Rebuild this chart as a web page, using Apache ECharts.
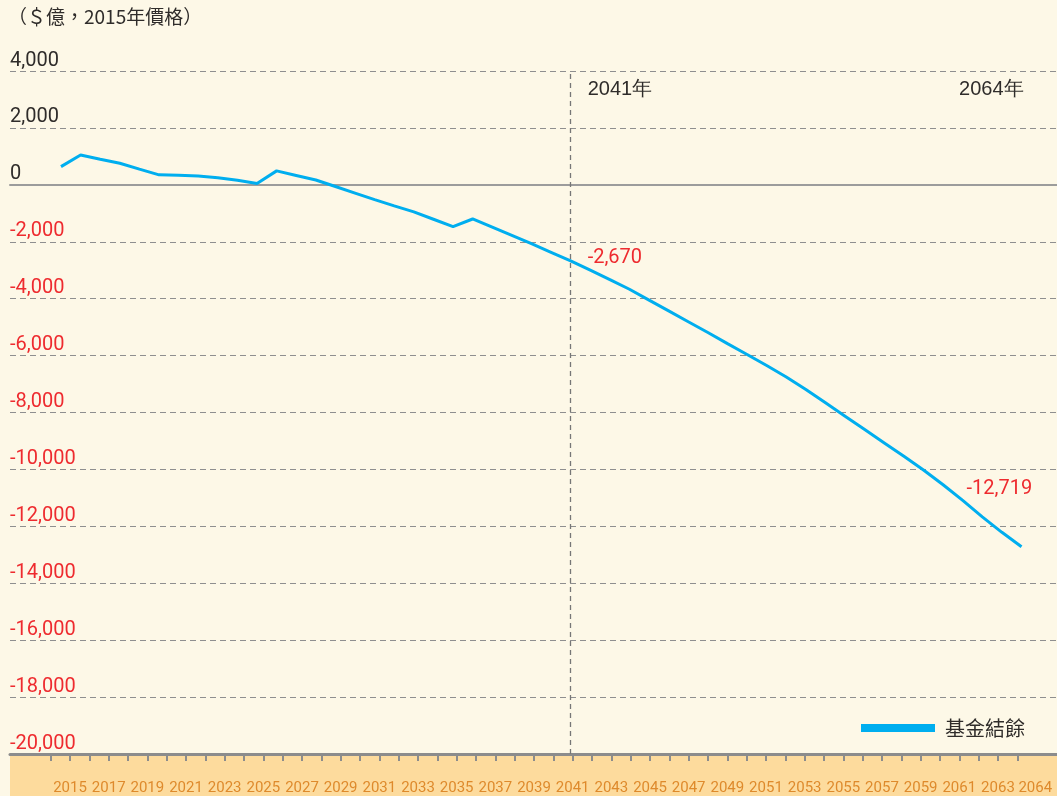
<!DOCTYPE html>
<html>
<head>
<meta charset="utf-8">
<title>基金結餘</title>
<script src="https://cdn.jsdelivr.net/npm/echarts@6/dist/echarts.min.js"></script>
<style>
html, body { margin: 0; padding: 0; background: #fdf8e7; }
#chart { width: 1057px; height: 796px; }
</style>
</head>
<body>
<div id="chart"></div>
<script>
// 數據年份
var years = [2015, 2016, 2017, 2018, 2019, 2020, 2021, 2022, 2023, 2024,
             2025, 2026, 2027, 2028, 2029, 2030, 2031, 2032, 2033, 2034,
             2035, 2036, 2037, 2038, 2039, 2040, 2041, 2042, 2043, 2044,
             2045, 2046, 2047, 2048, 2049, 2050, 2051, 2052, 2053, 2054,
             2055, 2056, 2057, 2058, 2059, 2060, 2061, 2062, 2063, 2064];
// 基金結餘 ($億，2015年價格)
var balance = [640, 1050, 900, 760, 550, 350, 340, 310, 250, 160,
               50, 490, 330, 170, -60, -290, -520, -740, -950, -1210,
               -1470, -1200, -1490, -1780, -2070, -2370, -2670, -3000, -3330, -3670,
               -4050, -4430, -4810, -5190, -5580, -5960, -6350, -6750, -7190, -7660,
               -8130, -8600, -9070, -9540, -10020, -10540, -11090, -11670, -12210, -12719];
// 底部刻度年份
var tickYears = ['2014', '2015', '2016', '2017', '2018', '2019', '2020', '2021', '2022', '2023',
                 '2024', '2025', '2026', '2027', '2028', '2029', '2030', '2031', '2032', '2033',
                 '2034', '2035', '2036', '2037', '2038', '2039', '2040', '2041', '2042', '2043',
                 '2044', '2045', '2046', '2047', '2048', '2049', '2050', '2051', '2052', '2053',
                 '2054', '2055', '2056', '2057', '2058', '2059', '2060', '2061', '2062', '2063', '2064'];
// y軸刻度
var yTicks = [4000, 2000, 0, -2000, -4000, -6000, -8000, -10000, -12000, -14000, -16000, -18000, -20000];
// 標註年份
var markYears = [2041, 2064];

var NUM = "Roboto, 'Liberation Sans', sans-serif";
var SANS = "'Liberation Sans', Arial, sans-serif";
var CJK = "'Noto Sans CJK TC', 'Noto Sans CJK SC', sans-serif";
var RED = '#ee2b2f';
var DARK = '#2f2c2a';
var ORANGE = '#de8a2c';

function fmt(v) {
    var s = String(Math.abs(v)).replace(/\B(?=(\d{3})+(?!\d))/g, ',');
    return (v < 0 ? '-' : '') + s;
}

var chart = echarts.init(document.getElementById('chart'));

var yMax = yTicks[0], yMin = yTicks[yTicks.length - 1];

var markData = [];
markYears.forEach(function (y, k) {
    var i = years.indexOf(y);
    markData.push({
        coord: [y, balance[i]],
        label: {
            formatter: fmt(balance[i]),
            color: RED,
            fontFamily: NUM,
            fontSize: 20,
            offset: k === 0 ? [17, -3] : [-55, -58]
        }
    });
    markData.push({
        coord: [y, yMax],
        label: {
            formatter: y + '年',
            color: DARK,
            fontFamily: SANS,
            fontSize: 20,
            align: k === 0 ? 'left' : 'right',
            offset: k === 0 ? [17, 18] : [2, 18]
        }
    });
});

var option = {
    animation: false,
    backgroundColor: '#fdf8e7',
    title: {
        text: '（＄億，2015年價格）',
        left: 8,
        top: 7,
        padding: 0,
        textStyle: { fontFamily: CJK, fontSize: 19, fontWeight: 'normal', color: DARK }
    },
    legend: {
        data: ['基金結餘'],
        left: 861,
        top: 718,
        padding: 0,
        icon: 'rect',
        itemWidth: 74,
        itemHeight: 8,
        textStyle: { fontFamily: CJK, fontSize: 20, color: DARK, padding: [0, 0, 0, 5] }
    },
    grid: [
        { left: 61, right: 35.5, top: 71, bottom: 42 },
        { left: 10, right: 0, top: 71, bottom: 42 },
        { left: 10, right: 0, top: 755, bottom: 0, show: true, backgroundColor: '#fddb9d', borderWidth: 0 },
        { left: 50.7, right: 39.7, top: 755, bottom: 0 }
    ],
    xAxis: [
        { gridIndex: 0, type: 'value', min: years[0], max: years[years.length - 1], show: false },
        {
            gridIndex: 1, type: 'value', min: 0, max: 1, position: 'bottom',
            axisLine: { onZero: false, lineStyle: { color: '#8c8c8c', width: 3 } },
            axisTick: { show: false }, axisLabel: { show: false }, splitLine: { show: false }
        },
        {
            gridIndex: 1, type: 'value', min: 0, max: 1,
            axisLine: { onZero: true, lineStyle: { color: '#9c9c9c', width: 2 } },
            axisTick: { show: false }, axisLabel: { show: false }, splitLine: { show: false }
        },
        {
            gridIndex: 3, type: 'category', data: tickYears, boundaryGap: false, position: 'top',
            axisLine: { show: false },
            axisTick: {
                inside: true, length: 17,
                interval: function (i, v) { return +v % 2 === 1; },
                lineStyle: { color: '#8c8c8c', width: 2 }
            },
            axisLabel: {
                inside: true, margin: 26,
                showMinLabel: true, showMaxLabel: true,
                interval: function (i, v) { return +v % 2 === 1 || v === '2064'; },
                color: ORANGE, fontFamily: NUM, fontSize: 15,
                formatter: function (v) { return v === '2064' ? '{s|' + v + '}' : v; },
                rich: { s: { color: ORANGE, fontFamily: NUM, fontSize: 15, padding: [0, 0, 0, 36] } }
            }
        },
        {
            gridIndex: 3, type: 'category', data: tickYears, boundaryGap: false, position: 'top',
            axisLine: { show: false },
            axisTick: { inside: true, length: 6, interval: 0, lineStyle: { color: '#8c8c8c', width: 2 } },
            axisLabel: { show: false }
        }
    ],
    yAxis: [
        { gridIndex: 0, type: 'value', min: yMin, max: yMax, show: false },
        {
            gridIndex: 1, type: 'value', min: yMin, max: yMax, interval: 2000,
            axisLine: { show: false }, axisTick: { show: false },
            splitLine: { lineStyle: { type: [6, 4], color: '#8f8f8f', width: 1.2 } },
            axisLabel: {
                inside: true, margin: 0, verticalAlign: 'bottom', lineHeight: 21,
                formatter: function (v) { return (v < 0 ? '{r|' : '{k|') + fmt(v) + '}'; },
                rich: {
                    r: { color: RED, fontFamily: NUM, fontSize: 20, lineHeight: 21 },
                    k: { color: DARK, fontFamily: NUM, fontSize: 20, lineHeight: 21 }
                }
            }
        },
        { gridIndex: 3, type: 'value', show: false }
    ],
    series: [
        {
            name: '基金結餘',
            type: 'line',
            xAxisIndex: 0,
            yAxisIndex: 0,
            data: years.map(function (y, i) { return [y, balance[i]]; }),
            symbol: 'none',
            color: '#00aeef',
            lineStyle: { color: '#00aeef', width: 3 },
            z: 5,
            markLine: {
                silent: true,
                symbol: 'none',
                label: { show: false },
                lineStyle: { type: [5, 4], color: '#777777', width: 1.3 },
                data: [{ xAxis: markYears[0] }]
            },
            markPoint: {
                silent: true,
                symbol: 'circle',
                symbolSize: 1,
                itemStyle: { color: 'rgba(0,0,0,0)' },
                label: { show: true, position: 'inside', align: 'left', verticalAlign: 'middle' },
                data: markData
            }
        }
    ]
};

chart.setOption(option);
</script>
</body>
</html>
